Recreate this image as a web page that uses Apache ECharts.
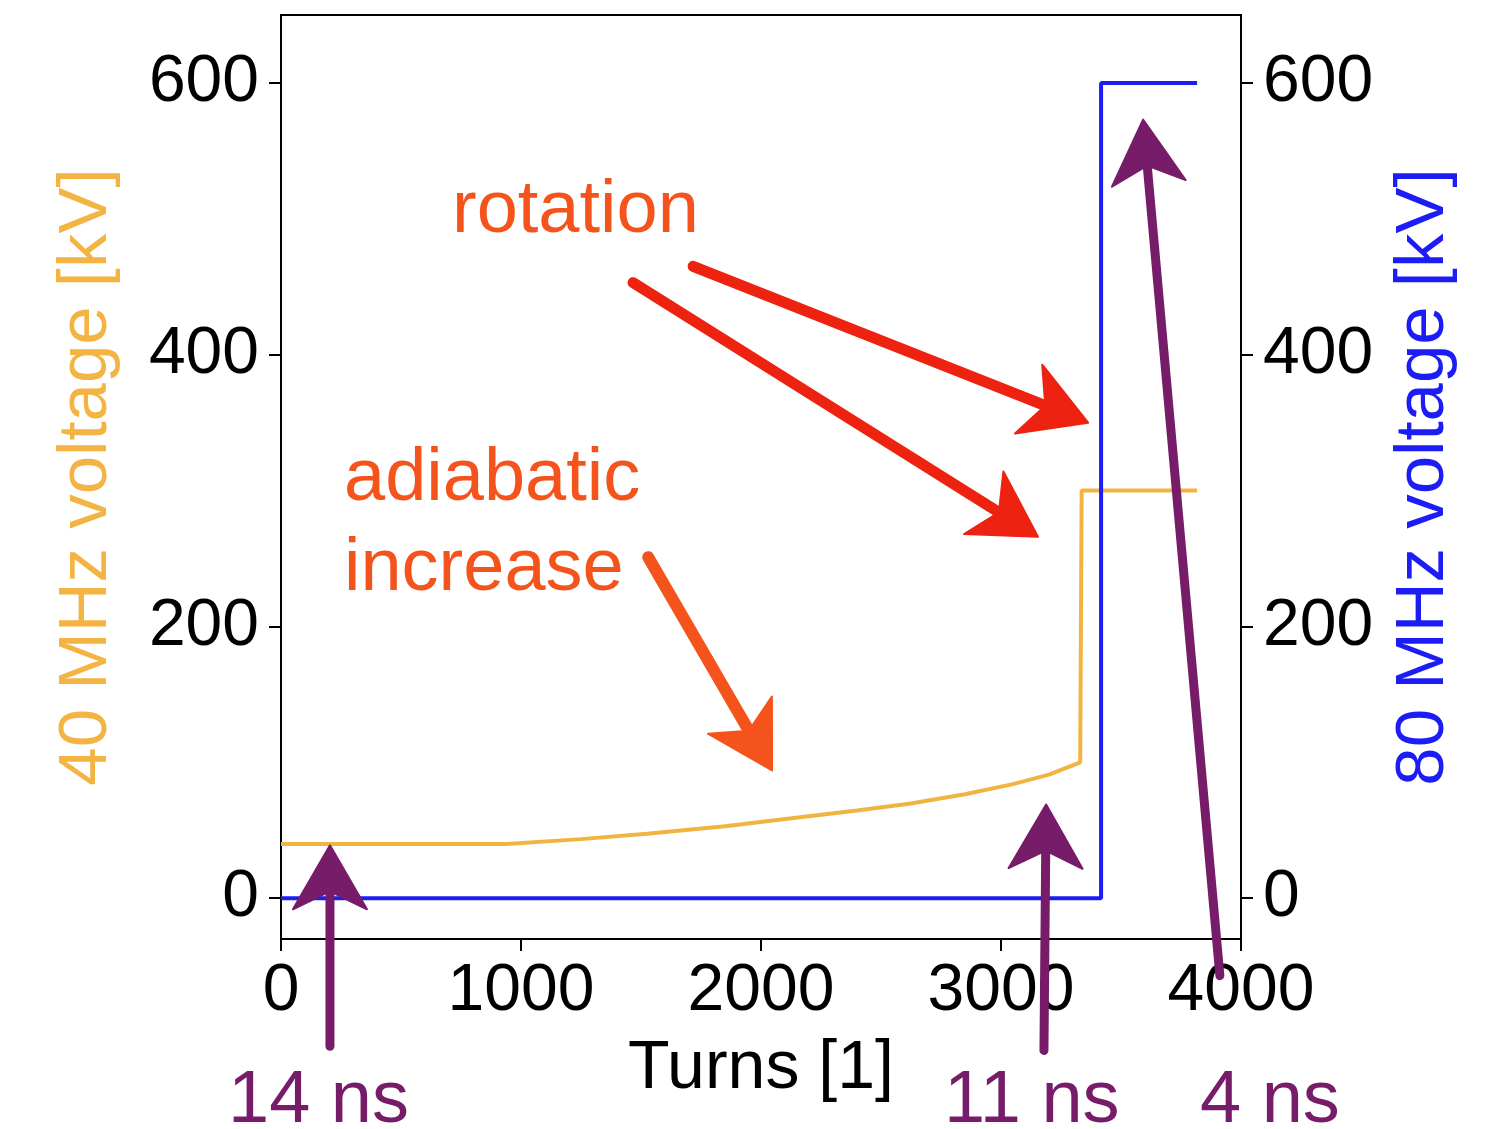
<!DOCTYPE html>
<html>
<head>
<meta charset="utf-8">
<script src="https://cdn.jsdelivr.net/npm/echarts@6/dist/echarts.min.js"></script>
<style>
html,body{margin:0;padding:0;background:#fff;}
#chart{width:1502px;height:1129px;}
</style>
</head>
<body>
<div id="chart"></div>
<script>
// ---- data ----
const turns40 = [0, 940, 1250, 1525, 1850, 2180, 2400, 2617, 2850, 3050, 3200, 3330, 3336, 3817];
const volt40  = [40, 40, 43.5, 47.5, 53, 60, 64.5, 69.6, 76.5, 84, 91, 100, 300, 300];
const turns80 = [0, 3417, 3417, 3817];
const volt80  = [0, 0, 600, 600];
const xTicks = [0, 1000, 2000, 3000, 4000];
const yTicks = [0, 200, 400, 600];

// annotation arrows in data coordinates: [tailX, tailY, tipX, tipY]
const purpleArrows = [[204, -109, 204, 39], [3179, -112, 3188, 69], [3912, -57, 3592, 573]];
const redArrows = [[1717, 465, 3363, 350], [1467, 453, 3154, 266]];
const orangeArrows = [[1530, 251, 2046, 94]];
const purpleLabels = ['14 ns', '11 ns', '4 ns'];

const FONT = '"Liberation Sans", Arial, Helvetica, sans-serif';
const chart = echarts.init(document.getElementById('chart'), null, {renderer: 'canvas'});

const yAxisCommon = {
  type: 'value', min: -30, max: 650,
  axisLine: {show: true, onZero: false, lineStyle: {color: '#000', width: 2}},
  axisTick: {show: true, length: 12, inside: false, customValues: yTicks, lineStyle: {color: '#000', width: 2}},
  axisLabel: {customValues: yTicks, fontSize: 66, color: '#000', fontFamily: FONT, margin: 22,
              formatter: v => String(v)},
  splitLine: {show: false},
  nameLocation: 'middle', nameRotate: 90,
  nameTextStyle: {fontSize: 69, fontFamily: FONT}
};

chart.setOption({
  animation: false,
  backgroundColor: '#fff',
  grid: {left: 281, right: 261, top: 15, bottom: 190, show: true, borderColor: '#000', borderWidth: 2, backgroundColor: 'transparent'},
  xAxis: {
    type: 'value', min: 0, max: 4000, interval: 1000,
    axisLine: {show: true, onZero: false, lineStyle: {color: '#000', width: 2}},
    axisTick: {show: true, length: 12, customValues: xTicks, lineStyle: {color: '#000', width: 2}},
    axisLabel: {customValues: xTicks, fontSize: 66, color: '#000', fontFamily: FONT, margin: 20,
                formatter: v => String(v)},
    splitLine: {show: false},
    name: 'Turns [1]', nameLocation: 'middle', nameGap: 96,
    nameTextStyle: {fontSize: 68, color: '#000', fontFamily: FONT}
  },
  yAxis: [
    Object.assign({}, yAxisCommon, {position: 'left', name: '40 MHz voltage [kV]', nameGap: 160,
      nameTextStyle: Object.assign({}, yAxisCommon.nameTextStyle, {color: '#f3b443'})}),
    Object.assign({}, yAxisCommon, {position: 'right', name: '80 MHz voltage [kV]', nameGap: 148,
      nameTextStyle: Object.assign({}, yAxisCommon.nameTextStyle, {color: '#1c1cf5'})})
  ],
  series: [
    {type: 'line', yAxisIndex: 0, showSymbol: false, symbol: 'none', smooth: false,
     lineStyle: {color: '#f2b441', width: 4}, data: turns40.map((t, i) => [t, volt40[i]]), z: 3},
    {type: 'line', yAxisIndex: 1, showSymbol: false, symbol: 'none', smooth: false,
     lineStyle: {color: '#1c1cf5', width: 4}, data: turns80.map((t, i) => [t, volt80[i]]), z: 3}
  ]
});

function arrowGraphics(a, color, shaftW) {
  const s = chart.convertToPixel({gridIndex: 0}, [a[0], a[1]]);
  const t = chart.convertToPixel({gridIndex: 0}, [a[2], a[3]]);
  const dx = t[0] - s[0], dy = t[1] - s[1];
  const len = Math.sqrt(dx * dx + dy * dy);
  const ux = dx / len, uy = dy / len, nx = -uy, ny = ux;
  const L = 64, W = 37;
  const bx = t[0] - L * ux, by = t[1] - L * uy;
  const notchX = t[0] - 0.72 * L * ux, notchY = t[1] - 0.72 * L * uy;
  return [
    {type: 'line', shape: {x1: s[0], y1: s[1], x2: notchX, y2: notchY},
     style: {stroke: color, lineWidth: shaftW, lineCap: 'round'}, z: 10},
    {type: 'polygon', shape: {points: [
      [t[0], t[1]], [bx + W * nx, by + W * ny], [notchX, notchY], [bx - W * nx, by - W * ny]
    ]}, style: {fill: color, stroke: color, lineWidth: 2, lineJoin: 'round'}, z: 10}
  ];
}

const g = [];
purpleArrows.forEach(a => g.push(...arrowGraphics(a, '#761c68', 9)));
redArrows.forEach(a => g.push(...arrowGraphics(a, '#ee2210', 11)));
orangeArrows.forEach(a => g.push(...arrowGraphics(a, '#f4541c', 12)));

const textStyle = (txt, color) => ({text: txt, fill: color, font: '74px ' + FONT, textVerticalAlign: 'middle'});
g.push({type: 'text', left: 452, top: 175, style: textStyle('rotation', '#f4541c'), z: 11});
g.push({type: 'text', left: 344, top: 443, style: textStyle('adiabatic', '#f4541c'), z: 11});
g.push({type: 'text', left: 344, top: 533, style: textStyle('increase', '#f4541c'), z: 11});
const labelX = [228, 944, 1200];
purpleLabels.forEach((txt, i) => g.push({type: 'text', left: labelX[i], top: 1065, style: textStyle(txt, '#761c68'), z: 11}));

chart.setOption({graphic: g});
</script>
</body>
</html>
